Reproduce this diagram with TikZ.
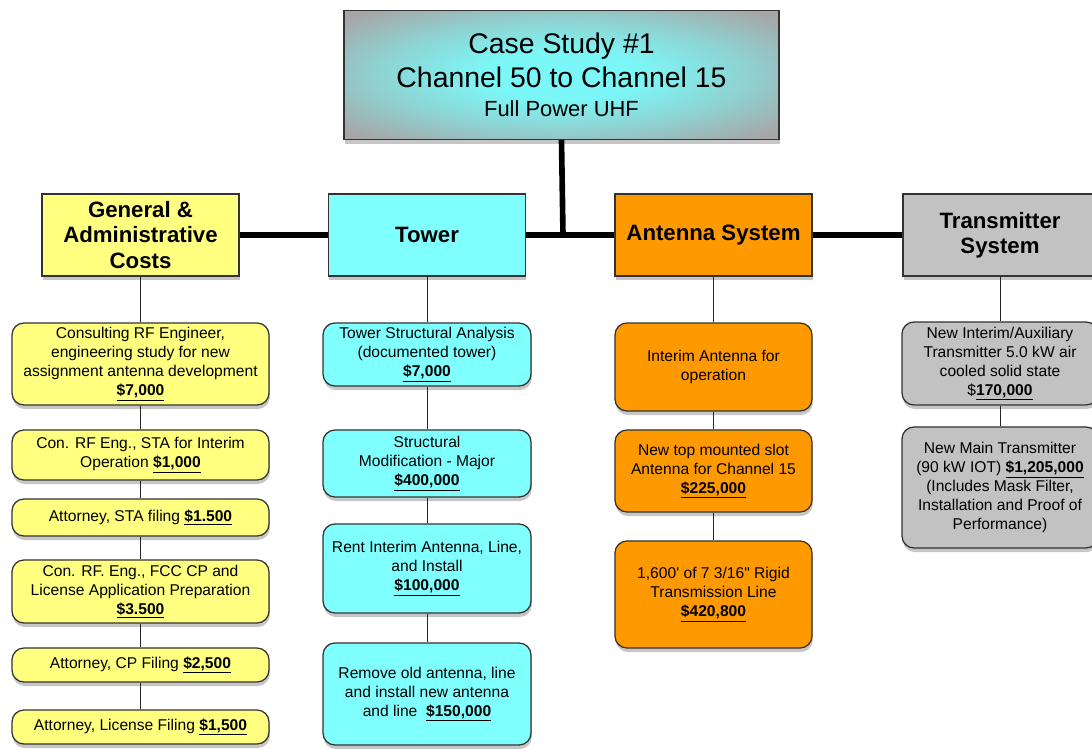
\documentclass[tikz,border=0pt]{standalone}
\usepackage{fontspec}
\setmainfont{Liberation Sans}
\usetikzlibrary{shadows}
\definecolor{gayellow}{HTML}{FFFF80}
\definecolor{towercyan}{HTML}{80FFFF}
\definecolor{antorange}{HTML}{FF9900}
\definecolor{txgray}{HTML}{C2C2C2}
\definecolor{topcyan}{HTML}{7CF7F7}
\definecolor{topgray}{HTML}{A6A6A6}
\pgfdeclareradialshading{topglow}{\pgfpoint{0bp}{0bp}}{color(0bp)=(topcyan);
    color(9bp)=(topcyan); color(21bp)=(topcyan!55!topgray); color(33bp)=(topgray);
    color(50bp)=(topgray)}
\newcommand{\cost}[1]{\underline{\textbf{#1}}}

\tikzset{
    box/.style={draw=black!80, line width=0.9pt, align=center, inner sep=2pt,
        drop shadow={opacity=0.45, shadow xshift=0.02cm, shadow yshift=-0.1cm},
        font=\fontsize{11.1}{13.5}\selectfont},
    head/.style={box, minimum width=4.925cm, minimum height=2.05cm,
        font=\bfseries\fontsize{15.8}{18}\selectfont},
    item/.style={box, rounded corners=0.3cm},
    bus/.style={line width=4pt},
    link/.style={line width=0.7pt, black!85}
}

\begin{document}
\begin{tikzpicture}[x=0.025cm, y=-0.025cm]
    \useasboundingbox (0,0) rectangle (1092,749);

    \node[box, minimum width=10.875cm, minimum height=3.225cm, shading=topglow,
        font=\fontsize{20.2}{24.1}\selectfont] (top) at (561.5,75)
        {Case Study \#1\\Channel 50 to Channel 15\\[-3pt]
         {\fontsize{15.6}{18}\selectfont Full Power UHF}};

    \node[head, fill=gayellow] (gen) at (140.5,235) {General \&\\Administrative\\Costs};
    \node[head, fill=towercyan] (tower) at (427,235) {Tower};
    \node[head, fill=antorange] (ant) at (713.5,235) {Antenna System};
    \node[head, fill=txgray, minimum width=4.85cm] (tx) at (1000,235) {Transmitter\\System};
    \coordinate (hub) at (563,235);

    \node[item, fill=gayellow, minimum width=6.425cm, minimum height=2.05cm] (g1) at (140.5,364)
        {Consulting RF Engineer,\\engineering study for new\\assignment antenna development\\\cost{\$7,000}};
    \node[item, fill=gayellow, minimum width=6.425cm, minimum height=1.25cm] (g2) at (140.5,455)
        {Con. RF Eng., STA for Interim\\Operation \cost{\$1,000}};
    \node[item, fill=gayellow, minimum width=6.425cm, minimum height=0.925cm] (g3) at (140.5,517.5)
        {Attorney, STA filing \cost{\$1.500}};
    \node[item, fill=gayellow, minimum width=6.425cm, minimum height=1.575cm] (g4) at (140.5,591.5)
        {Con. RF. Eng., FCC CP and\\License Application Preparation\\\cost{\$3.500}};
    \node[item, fill=gayellow, minimum width=6.425cm, minimum height=0.85cm] (g5) at (140.5,665)
        {Attorney, CP Filing \cost{\$2,500}};
    \node[item, fill=gayellow, minimum width=6.425cm, minimum height=0.85cm] (g6) at (140.5,727)
        {Attorney, License Filing \cost{\$1,500}};

    \node[item, fill=towercyan, minimum width=5.2cm, minimum height=1.575cm] (t1) at (427,354.5)
        {Tower Structural Analysis\\(documented tower)\\\cost{\$7,000}};
    \node[item, fill=towercyan, minimum width=5.2cm, minimum height=1.675cm] (t2) at (427,463.5)
        {Structural\\Modification - Major\\\cost{\$400,000}};
    \node[item, fill=towercyan, minimum width=5.2cm, minimum height=2.225cm] (t3) at (427,568.5)
        {Rent Interim Antenna, Line,\\and Install\\\cost{\$100,000}};
    \node[item, fill=towercyan, minimum width=5.2cm, minimum height=2.55cm] (t4) at (427,694)
        {Remove old antenna, line\\and install new antenna\\and line\ \ \cost{\$150,000}};

    \node[item, fill=antorange, minimum width=4.925cm, minimum height=2.2cm] (a1) at (713.5,367)
        {Interim Antenna for\\operation};
    \node[item, fill=antorange, minimum width=4.925cm, minimum height=2.05cm] (a2) at (713.5,471)
        {New top mounted slot\\Antenna for Channel 15\\\cost{\$225,000}};
    \node[item, fill=antorange, minimum width=4.925cm, minimum height=2.675cm] (a3) at (713.5,594.5)
        {1,600\textquotesingle{} of 7 3/16\textquotedbl{} Rigid\\Transmission Line\\\cost{\$420,800}};

    \node[item, fill=txgray, minimum width=4.9cm, minimum height=2.075cm] (x1) at (1000,363.5)
        {New Interim/Auxiliary\\Transmitter 5.0 kW air\\cooled solid state\\\$\cost{170,000}};
    \node[item, fill=txgray, minimum width=4.9cm, minimum height=3.025cm] (x2) at (1000,487.5)
        {New Main Transmitter\\(90 kW IOT) \cost{\$1,205,000}\\(Includes Mask Filter,\\Installation and Proof of\\Performance)};

    \path[bus]
        (top.south) edge (hub)
        (gen.east) edge (tower.west)
        (tower.east) edge (ant.west)
        (ant.east) edge (tx.west)
    ;

    \path[link]
        (gen) edge (g1)
        (g1) edge (g2)
        (g2) edge (g3)
        (g3) edge (g4)
        (g4) edge (g5)
        (g5) edge (g6)
        (tower) edge (t1)
        (t1) edge (t2)
        (t2) edge (t3)
        (t3) edge (t4)
        (ant) edge (a1)
        (a1) edge (a2)
        (a2) edge (a3)
        (tx) edge (x1)
        (x1) edge (x2)
    ;
\end{tikzpicture}
\end{document}
